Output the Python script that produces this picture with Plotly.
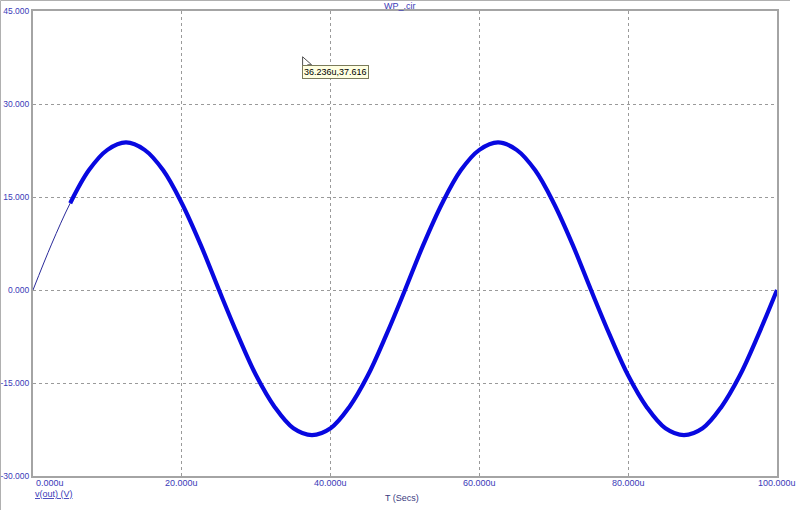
"""Transient plot of v(out) from WP_.cir, redrawn with Plotly."""

import plotly.graph_objects as go

# time in microseconds, voltage in volts
t_us = [0, 2.5, 5, 7.5, 10, 12.5, 15, 17.5, 20, 22.5, 25, 27.5, 30, 32.5, 35,
        37.5, 40, 42.5, 45, 47.5, 50, 52.5, 55, 57.5, 60, 62.5, 65, 67.5, 70,
        72.5, 75, 77.5, 80, 82.5, 85, 87.5, 90, 92.5, 95, 97.5, 100]
v_out = [0.0, 7.4, 14.0, 19.3, 22.6, 23.8, 22.6, 19.3, 14.0, 7.4, 0.0,
         -7.2, -13.8, -18.9, -22.3, -23.4, -22.3, -18.9, -13.8, -7.2, 0.0,
         7.4, 14.0, 19.3, 22.6, 23.8, 22.6, 19.3, 14.0, 7.4, 0.0,
         -7.2, -13.8, -18.9, -22.3, -23.4, -22.3, -18.9, -13.8, -7.2, 0.0]
ripple_start_us = 5.0

y_ticks = [-30, -15, 0, 15, 30, 45]
x_ticks = [0, 20, 40, 60, 80, 100]
x_tick_text = ["0.000u", "20.000u", "40.000u", "60.000u", "80.000u", "100.000u"]

cursor_t, cursor_v = 36.236, 37.616
title = "WP_.cir"
trace_name = "v(out) (V)"
x_title = "T (Secs)"

BLUE_TXT = "#3a3ab8"
GRAY = "#a4a4a4"
FONT = "Liberation Sans"

L, R, T, B = 33, 23, 11, 34
W, H = 800, 510
PW, PH = W - L - R, H - T - B


def px_to_paper(px, py):
    return (px - L) / PW, (H - B - py) / PH


fig = go.Figure()

# thin line under everything, then the thick "ripple" band
fig.add_trace(go.Scatter(
    x=t_us, y=v_out, mode="lines", line={"color": "#2a2a9a", "width": 1, "shape": "spline"},
    showlegend=False, hoverinfo="skip",
))
band_t = [t for t in t_us if t >= ripple_start_us]
band_v = [v for t, v in zip(t_us, v_out) if t >= ripple_start_us]
fig.add_trace(go.Scatter(
    x=band_t, y=band_v, mode="lines", line={"color": "#0808e0", "width": 4.2, "shape": "spline"},
    showlegend=False, name=trace_name,
))

annotations = []
for xv, txt in zip(x_ticks, x_tick_text):
    annotations.append(dict(
        x=xv, y=-30, xref="x", yref="y", text=txt, showarrow=False,
        xanchor="left" if xv == 0 else "center", yanchor="top", yshift=0,
        xshift=1 if xv == 0 else 0,
        font={"family": FONT, "size": 9, "color": BLUE_TXT},
    ))

tx, ty = px_to_paper(400, 6)
annotations.append(dict(x=tx, y=ty, xref="paper", yref="paper", text=title, showarrow=False,
                        xanchor="center", yanchor="middle",
                        font={"family": FONT, "size": 9, "color": BLUE_TXT}))
lx, ly = px_to_paper(33, 494)
annotations.append(dict(x=lx, y=ly, xref="paper", yref="paper", text=f"<u>{trace_name}</u>",
                        showarrow=False, xanchor="left", yanchor="middle",
                        font={"family": FONT, "size": 9, "color": BLUE_TXT}))
xx, xy = px_to_paper(402, 498)
annotations.append(dict(x=xx, y=xy, xref="paper", yref="paper", text=x_title, showarrow=False,
                        xanchor="center", yanchor="middle",
                        font={"family": FONT, "size": 9, "color": "#3a3a80"}))
# cursor read-out box
annotations.append(dict(x=cursor_t, y=cursor_v, xref="x", yref="y",
                        text=f"{cursor_t:.3f}u,{cursor_v:.3f}", showarrow=False,
                        xanchor="left", yanchor="top", xshift=-1, yshift=-8,
                        bgcolor="#ffffe1", bordercolor="#7a7a5a", borderwidth=1, borderpad=1,
                        font={"family": FONT, "size": 9, "color": "#000000"}))

shapes = [
    # mouse pointer
    dict(type="path", xref="x", yref="y", xsizemode="pixel", ysizemode="pixel",
         xanchor=cursor_t, yanchor=cursor_v,
         path="M 0 0 L 0 -12 L 3 -9 L 5 -14 L 7 -13 L 5 -8 L 9 -8 Z",
         fillcolor="#ffffff", line={"color": "#505050", "width": 1}),
]
# outer window frame (top and left edges)
x0p, _ = px_to_paper(0.5, 0)
_, ytop = px_to_paper(0, 0.5)
_, ybot = px_to_paper(0, H)
shapes.append(dict(type="line", xref="paper", yref="paper", x0=x0p, x1=px_to_paper(790, 0)[0],
                   y0=ytop, y1=ytop, line={"color": "#b0b0b0", "width": 1}))
shapes.append(dict(type="line", xref="paper", yref="paper", x0=x0p, x1=x0p,
                   y0=ybot, y1=ytop, line={"color": "#b0b0b0", "width": 1}))

fig.update_layout(
    width=W, height=H,
    margin={"l": L, "r": R, "t": T, "b": B, "autoexpand": False},
    paper_bgcolor="#ffffff", plot_bgcolor="#ffffff",
    annotations=annotations, shapes=shapes,
    showlegend=False, hovermode="closest",
)
fig.update_xaxes(
    range=[0, 100], tickvals=x_ticks, showticklabels=False, ticks="", automargin=False,
    showgrid=True, gridcolor="#9a9a9a", griddash="dot", gridwidth=1,
    showline=True, linecolor=GRAY, linewidth=2, mirror=True, zeroline=False,
)
fig.update_yaxes(
    range=[-30, 45], tickvals=y_ticks, ticktext=[f"{v:.3f}" for v in y_ticks],
    ticks="", ticklabelstandoff=0, automargin=False,
    tickfont={"family": FONT, "size": 8.5, "color": BLUE_TXT},
    showgrid=True, gridcolor="#9a9a9a", griddash="dot", gridwidth=1,
    showline=True, linecolor=GRAY, linewidth=2, mirror=True, zeroline=False,
)

# the page's default body margin would push the 800x510 figure off the window
fig.write_html("out.html", config={"displayModeBar": False},
               post_script="document.body.style.margin='0';")
